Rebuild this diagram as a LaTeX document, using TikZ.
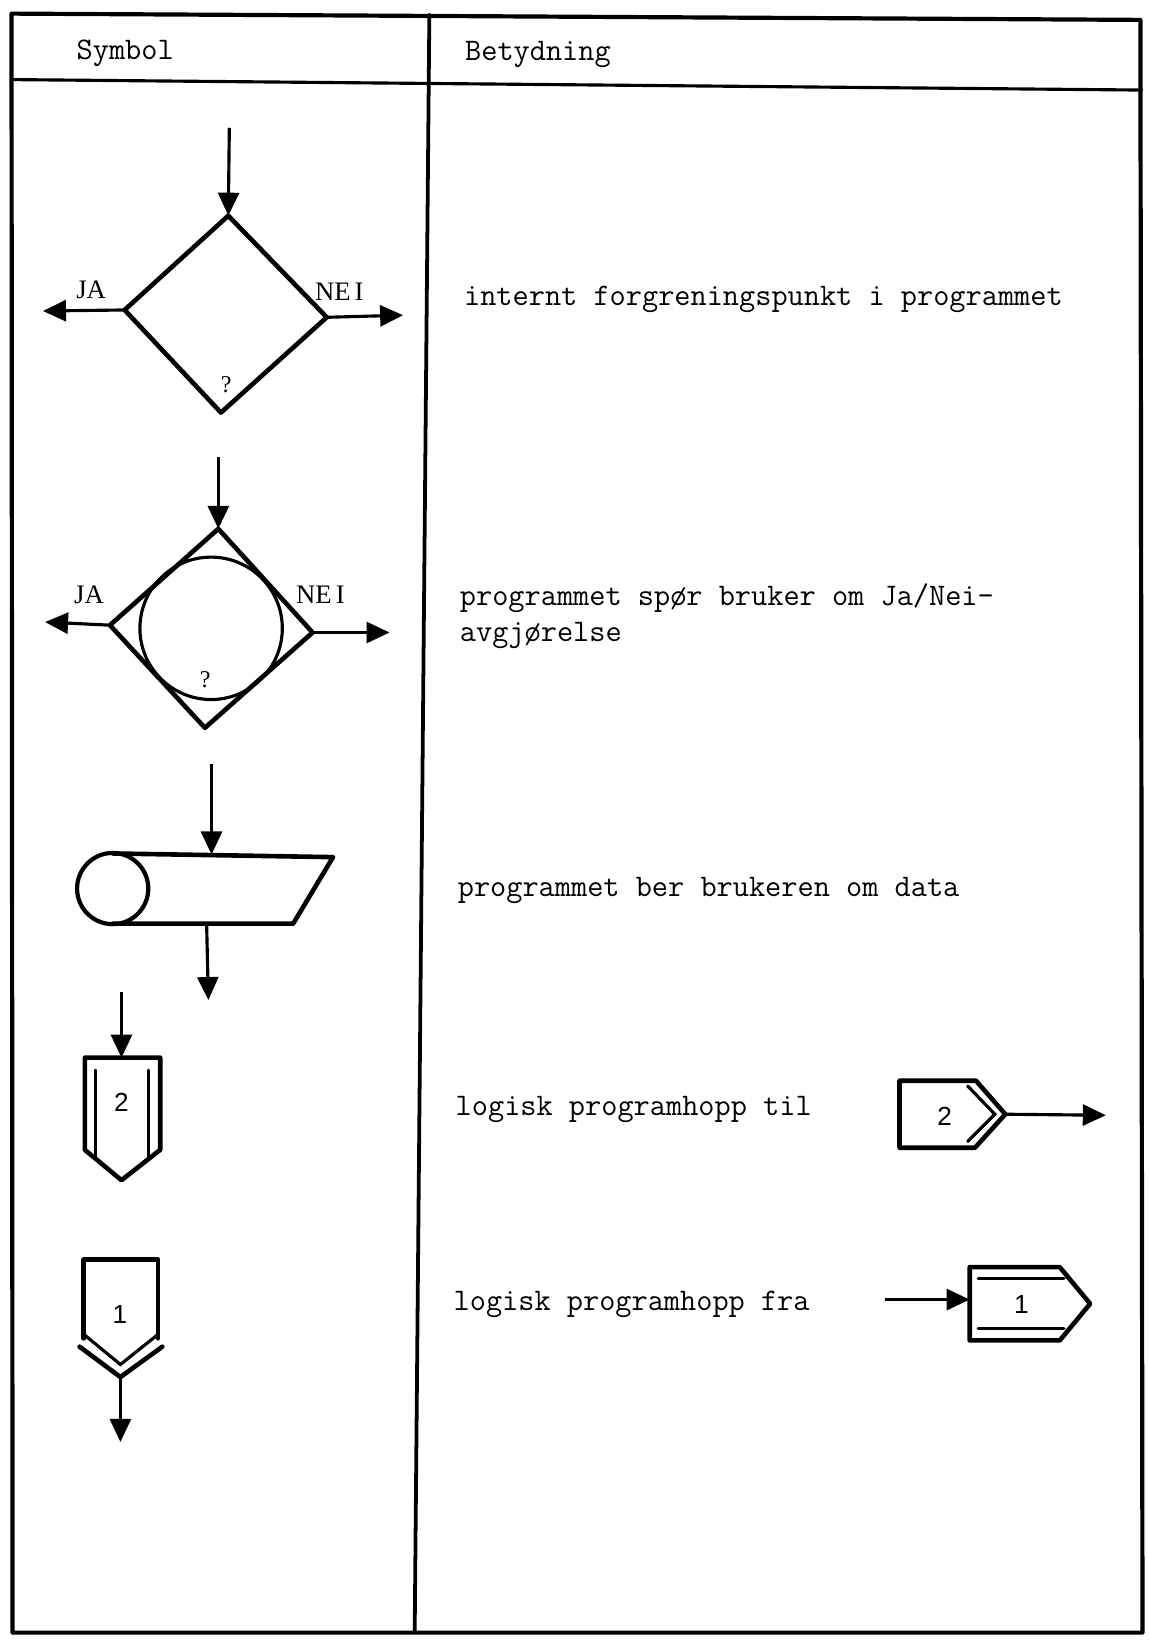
\documentclass[tikz,border=0pt]{standalone}
\usepackage{fontspec}
\newfontfamily\serifL{Liberation Serif}
\newfontfamily\sansL{Liberation Sans}
\usetikzlibrary{arrows.meta}
\tikzset{
  frame/.style={line width=4pt, line cap=round, line join=round},
  outline/.style={line width=4.4pt, line join=round, line cap=round},
  innerline/.style={line width=3pt, line cap=round},
  arr/.style={line width=3pt, -{Triangle[length=22pt,width=20pt]}},
  tw/.style={font=\ttfamily\fontsize{30}{36}\selectfont, anchor=base west, inner sep=0pt},
  lbl/.style={font=\serifL\fontsize{25.5}{30}\selectfont, anchor=base, inner sep=0pt},
  qm/.style={font=\serifL\fontsize{23}{26}\selectfont, inner sep=0pt},
  num/.style={font=\sansL\fontsize{25}{28}\selectfont, inner sep=0pt}
}
\begin{document}
\begin{tikzpicture}[x=1pt,y=-1pt]
\useasboundingbox (0,0) rectangle (1097,1568);
% ---------- frame ----------
\coordinate (TL) at (11,13);
\coordinate (TR) at (1089,19);
\coordinate (BR) at (1091,1559);
\coordinate (BL) at (12,1559);
\coordinate (HL) at (11,76);
\coordinate (HR) at (1090,86);
\coordinate (DT) at (410,14);
\coordinate (DB) at (396,1559);
\draw[frame] (TL) -- (TR) -- (BR) -- (BL) -- cycle;
\draw[frame, line width=3pt] (HL) -- (HR);
\draw[frame, line width=3.6pt] (DT) -- (DB);
\node[tw] (hsym) at (73,57) {Symbol};
\node[tw] (hbet) at (444,58) {Betydning};
% ---------- symbol 1: decision diamond ----------
\coordinate (d1t) at (218,206);
\coordinate (d1r) at (312,303);
\coordinate (d1b) at (211,394);
\coordinate (d1l) at (119,296);
\draw[outline] (d1t) -- (d1r) -- (d1b) -- (d1l) -- cycle;
\coordinate (d1in) at (219,122);
\coordinate (d1ja) at (41,297);
\coordinate (d1nei) at (385,301);
\draw[arr] (d1in) -- (d1t);
\draw[arr] (d1l) -- (d1ja);
\draw[arr] (d1r) -- (d1nei);
\node[lbl] (ja1) at (87,285) {JA};
\node[lbl] (nei1) at (324,287) {NE\hspace{0.15em}I};
\node[qm] (q1) at (216,367) {?};
\node[tw] (t1) at (443,292) {internt forgreningspunkt i programmet};
% ---------- symbol 2: diamond with circle ----------
\coordinate (d2t) at (208.5,505);
\coordinate (d2r) at (298.5,604);
\coordinate (d2b) at (195.7,695);
\coordinate (d2l) at (105,597);
\draw[outline] (d2t) -- (d2r) -- (d2b) -- (d2l) -- cycle;
\node[draw, circle, line width=3pt, minimum size=136pt, inner sep=0pt] (c2) at (201.6,600) {};
\coordinate (d2in) at (208.5,436);
\coordinate (d2ja) at (43,594);
\coordinate (d2nei) at (372,604);
\draw[arr] (d2in) -- (d2t);
\draw[arr] (d2l) -- (d2ja);
\draw[arr] (d2r) -- (d2nei);
\node[lbl] (ja2) at (85,576) {JA};
\node[lbl] (nei2) at (306,576) {NE\hspace{0.15em}I};
\node[qm] (q2) at (196,649) {?};
\node[tw] (t2a) at (439,578) {programmet spør bruker om Ja/Nei-};
\node[tw] (t2b) at (439,613) {avgjørelse};
% ---------- symbol 3: data request ----------
\node[draw, circle, line width=4pt, minimum size=68pt, inner sep=0pt] (c3) at (107.6,848.5) {};
\coordinate (p3a) at (108,815);
\coordinate (p3b) at (318,818.5);
\coordinate (p3c) at (280,882);
\coordinate (p3d) at (108,882);
\draw[outline] (p3a) -- (p3b) -- (p3c) -- (p3d);
\coordinate (p3in) at (202,730);
\coordinate (p3top) at (202,816);
\coordinate (p3bot) at (197.3,882);
\coordinate (p3out) at (199,955);
\draw[arr] (p3in) -- (p3top);
\draw[arr] (p3bot) -- (p3out);
\node[tw] (t3) at (437,856) {programmet ber brukeren om data};
% ---------- symbol 4: connector 2 (to) ----------
\coordinate (s4a) at (81,1010);
\coordinate (s4b) at (153,1010);
\coordinate (s4c) at (153,1098);
\coordinate (s4d) at (116,1127);
\coordinate (s4e) at (81,1098);
\draw[outline] (s4a) -- (s4b) -- (s4c) -- (s4d) -- (s4e) -- cycle;
\coordinate (s4i1) at (91,1022);
\coordinate (s4i2) at (91,1104);
\coordinate (s4i3) at (142,1022);
\coordinate (s4i4) at (142,1105);
\draw[innerline] (s4i1) -- (s4i2);
\draw[innerline] (s4i3) -- (s4i4);
\coordinate (s4in) at (116,947);
\coordinate (s4top) at (116,1010);
\draw[arr] (s4in) -- (s4top);
\node[num] (n4) at (116,1053) {2};
% ---------- symbol 5: connector 1 (from) ----------
\coordinate (s5a) at (80,1203);
\coordinate (s5b) at (151,1203);
\coordinate (s5c) at (151,1278);
\coordinate (s5e) at (80,1278);
\draw[outline] (s5e) -- (s5a) -- (s5b) -- (s5c);
\coordinate (s5o1) at (76,1286);
\coordinate (s5o2) at (115,1315);
\coordinate (s5o3) at (155,1286);
\draw[outline] (s5o1) -- (s5o2) -- (s5o3);
\coordinate (s5v1) at (81,1275);
\coordinate (s5v2) at (115,1303);
\coordinate (s5v3) at (150,1275);
\draw[innerline] (s5v1) -- (s5v2) -- (s5v3);
\coordinate (s5out) at (115,1377);
\draw[arr] (s5o2) -- (s5out);
\node[num] (n5) at (114.6,1255) {1};
% ---------- right: jump to ----------
\node[tw] (t4) at (435,1065) {logisk programhopp til};
\coordinate (r2a) at (859,1032);
\coordinate (r2b) at (932,1032);
\coordinate (r2c) at (960,1064);
\coordinate (r2d) at (931,1096);
\coordinate (r2e) at (859,1096);
\draw[outline] (r2a) -- (r2b) -- (r2c) -- (r2d) -- (r2e) -- cycle;
\coordinate (r2i1) at (924,1037);
\coordinate (r2i2) at (950,1064);
\coordinate (r2i3) at (924,1090);
\draw[innerline] (r2i1) -- (r2i2) -- (r2i3);
\coordinate (r2out) at (1056,1065);
\draw[arr] (r2c) -- (r2out);
\node[num] (n6) at (902,1066) {2};
% ---------- right: jump from ----------
\node[tw] (t5) at (433,1251) {logisk programhopp fra};
\coordinate (r1a) at (926,1210);
\coordinate (r1b) at (1012,1210);
\coordinate (r1c) at (1041,1245);
\coordinate (r1d) at (1012,1280);
\coordinate (r1e) at (926,1280);
\draw[outline] (r1a) -- (r1b) -- (r1c) -- (r1d) -- (r1e) -- cycle;
\coordinate (r1i1) at (934,1221);
\coordinate (r1i2) at (1016,1221);
\coordinate (r1i3) at (934,1269);
\coordinate (r1i4) at (1016,1269);
\draw[innerline] (r1i1) -- (r1i2);
\draw[innerline] (r1i3) -- (r1i4);
\coordinate (r1in) at (845,1241);
\coordinate (r1left) at (926,1241);
\draw[arr] (r1in) -- (r1left);
\node[num] (n7) at (975.4,1246) {1};
\end{tikzpicture}
\end{document}
